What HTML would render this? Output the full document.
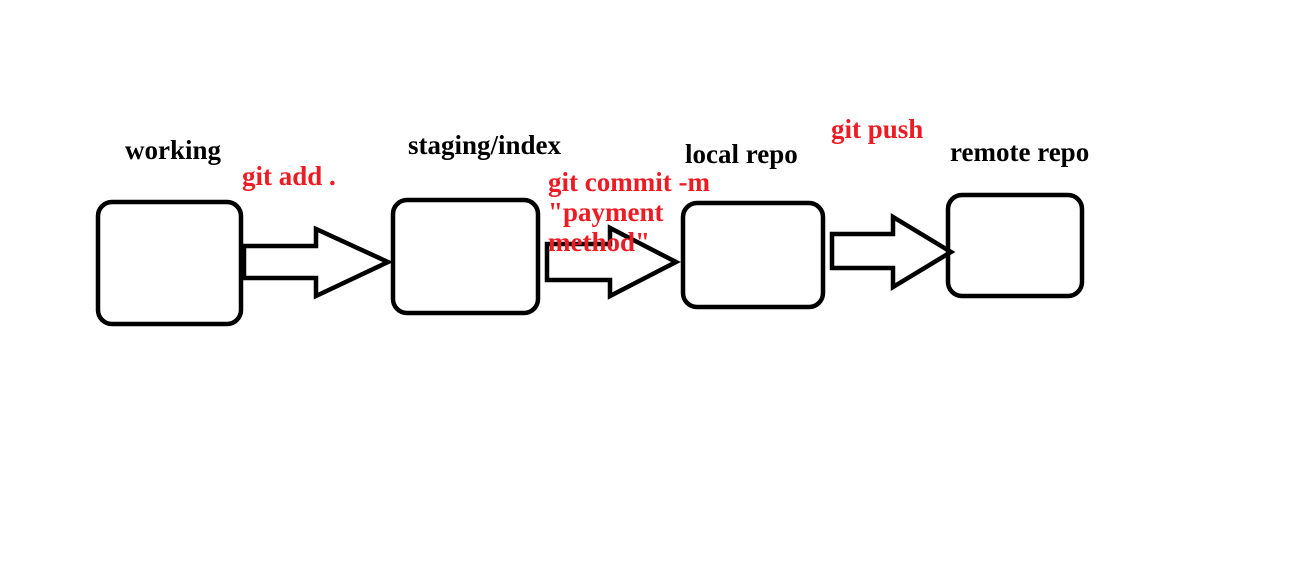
<!DOCTYPE html>
<html><head><style>body{margin:0;background:#fff}svg{display:block}</style></head><body>
<svg width="1296" height="568" xmlns="http://www.w3.org/2000/svg">
<rect width="1296" height="568" fill="#fff"/>
<g fill="none" stroke="#000" stroke-width="4.5" stroke-linejoin="miter">
<rect x="98" y="202" width="143" height="122" rx="14"/>
<rect x="393" y="200" width="145" height="113" rx="14"/>
<rect x="683" y="203" width="140" height="104" rx="14"/>
<rect x="948" y="195" width="134" height="101" rx="14"/>
<polygon points="244,246 316,246 316,229 388,262 316,296 316,278 244,278"/>
<polygon points="547,244 610,244 610,228 676,262 610,296 610,280 547,280"/>
<polygon points="832,234 893,234 893,217 951,252 893,287 893,268 832,268"/>
</g>
<g font-family="Liberation Serif, serif" font-weight="bold" font-size="27">
<text x="125" y="159">working</text>
<text x="408" y="154">staging/index</text>
<text x="685" y="163">local repo</text>
<text x="950" y="161">remote repo</text>
<g fill="#ed1c24">
<text x="242" y="185">git add .</text>
<text x="548" y="191">git commit -m</text>
<text x="548" y="221">"payment</text>
<text x="548" y="251">method"</text>
<text x="831" y="138">git push</text>
</g>
</g>
</svg>
</body></html>
